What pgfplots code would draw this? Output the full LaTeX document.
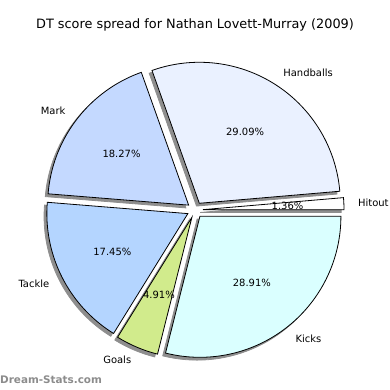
\documentclass[border=0pt]{standalone}
\usepackage{pgfplots}
\pgfplotsset{compat=1.18}
\usepackage{fontspec}
\setmainfont{DejaVu Sans}
\newfontfamily\wmfont{DejaVu Sans}
\definecolor{cHit}{HTML}{FFFFFF}
\definecolor{cHand}{HTML}{EAF1FF}
\definecolor{cMark}{HTML}{C4D9FF}
\definecolor{cTack}{HTML}{B4D5FF}
\definecolor{cGoal}{HTML}{D1EB8C}
\definecolor{cKick}{HTML}{DAFFFF}
\definecolor{cShadow}{HTML}{8E8E8E}
% shape: start (percent), value (percent), shift x, shift y, style
\newcommand\pieshape[5]{%
  \pgfmathsetmacro\aA{3.6*(#1)}%
  \pgfmathsetmacro\aB{3.6*((#1)+(#2))}%
  \pgfmathsetmacro\aM{(\aA+\aB)/2}%
  \pgfmathsetmacro\cx{195+8*cos(\aM)+(#3)}%
  \pgfmathsetmacro\cy{180+8*sin(\aM)+(#4)}%
  \edef\temp{\noexpand\addplot[#5, domain=\aA:\aB, samples=90] ({\cx+141*cos(x)},{\cy+141*sin(x)}) -- (\cx,\cy) -- cycle;}%
  \temp
}
\begin{document}
\begin{tikzpicture}
\useasboundingbox (0,0) rectangle (390bp,390bp);
\begin{axis}[
  at={(0,0)}, anchor=south west,
  scale only axis, width=390bp, height=390bp,
  xmin=0, xmax=390, ymin=0, ymax=390,
  hide axis, clip=false,
]
% values: Hitout 1.36, Handballs 29.09, Mark 18.27, Tackle 17.45, Goals 4.91, Kicks 28.91
% shadows
\pieshape{0}{1.36}{-2.8}{-2.8}{fill=cShadow, draw=cShadow, line width=0.8bp}
\pieshape{1.36}{29.09}{-2.8}{-2.8}{fill=cShadow, draw=cShadow, line width=0.8bp}
\pieshape{30.45}{18.27}{-2.8}{-2.8}{fill=cShadow, draw=cShadow, line width=0.8bp}
\pieshape{48.72}{17.45}{-2.8}{-2.8}{fill=cShadow, draw=cShadow, line width=0.8bp}
\pieshape{66.17}{4.91}{-2.8}{-2.8}{fill=cShadow, draw=cShadow, line width=0.8bp}
\pieshape{71.08}{28.92}{-2.8}{-2.8}{fill=cShadow, draw=cShadow, line width=0.8bp}
% slices
\pieshape{0}{1.36}{0}{0}{fill=cHit, draw=black, line width=0.8bp}
\pieshape{1.36}{29.09}{0}{0}{fill=cHand, draw=black, line width=0.8bp}
\pieshape{30.45}{18.27}{0}{0}{fill=cMark, draw=black, line width=0.8bp}
\pieshape{48.72}{17.45}{0}{0}{fill=cTack, draw=black, line width=0.8bp}
\pieshape{66.17}{4.91}{0}{0}{fill=cGoal, draw=black, line width=0.8bp}
\pieshape{71.08}{28.92}{0}{0}{fill=cKick, draw=black, line width=0.8bp}
% labels
\begingroup
\fontsize{10.7bp}{12bp}\selectfont
\node[anchor=west, inner sep=0pt] at (axis cs:357.9,187.0) {Hitout};
\node[anchor=west, inner sep=0pt] at (axis cs:283.2,317.2) {Handballs};
\node[anchor=east, inner sep=0pt] at (axis cs:65.6,279.3) {Mark};
\node[anchor=east, inner sep=0pt] at (axis cs:49.4,106.5) {Tackle};
\node[anchor=east, inner sep=0pt] at (axis cs:131.4,29.8) {Goals};
\node[anchor=west, inner sep=0pt] at (axis cs:295.3,51.4) {Kicks};
\node[inner sep=0pt] at (axis cs:287.5,184.0) {1.36\%};
\node[inner sep=0pt] at (axis cs:245.1,257.9) {29.09\%};
\node[inner sep=0pt] at (axis cs:121.5,236.4) {18.27\%};
\node[inner sep=0pt] at (axis cs:112.4,138.3) {17.45\%};
\node[inner sep=0pt] at (axis cs:158.9,94.7) {4.91\%};
\node[inner sep=0pt] at (axis cs:251.9,107.0) {28.91\%};
\endgroup
\node[inner sep=0pt, font=\fontsize{12.85bp}{14bp}\selectfont] at (axis cs:195,365) {DT score spread for Nathan Lovett-Murray (2009)};
\node[anchor=west, inner sep=0pt, text=black!45, font=\fontsize{10.4bp}{12bp}\selectfont\bfseries] at (axis cs:0,10) {Dream-Stats.com};
\end{axis}
\end{tikzpicture}
\end{document}
